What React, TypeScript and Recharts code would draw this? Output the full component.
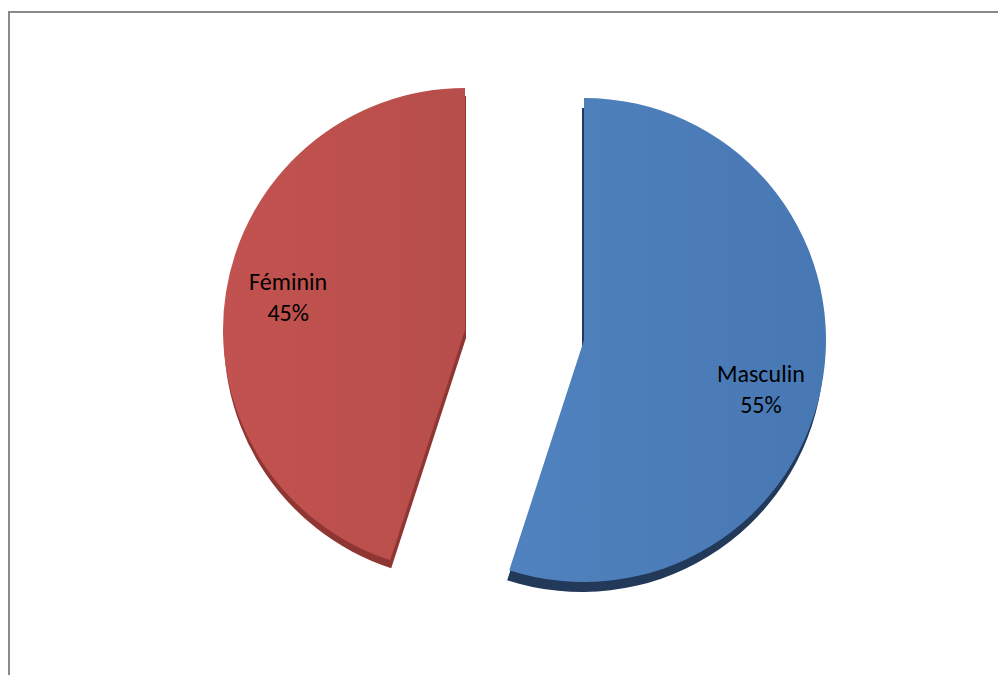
import { PieChart, Pie, Cell } from "recharts";

const categories = ["Masculin", "Féminin"];
const values = [55, 45];
const percentLabels = ["55%", "45%"];

const colors = ["url(#gradBlue)", "url(#gradRed)"];
const depthColors = ["#22395A", "#8F3633"];

const data = categories.map((name, i) => ({ name, value: values[i] }));

const RADIAN = Math.PI / 180;

// exploded slices: each slice gets its own pie centre
const slicePos = [
  { cx: 569, cy: 322, depthDx: -2, depthDy: 10, nudgeY: 20 },
  { cx: 450, cy: 312, depthDx: 1, depthDy: 8, nudgeY: -6 },
];

function makeLabel(idx: number) {
  return function SliceLabel(props: any) {
    const { cx, cy, midAngle, outerRadius, index } = props;
    if (index !== idx) return null;
    const r = outerRadius * 0.74;
    const x = cx + r * Math.cos(-midAngle * RADIAN);
    const y = cy + r * Math.sin(-midAngle * RADIAN) + slicePos[idx].nudgeY;
    return (
      <text x={x} y={y} textAnchor="middle" fill="#000" style={{ fontSize: 24, fontFamily: "Carlito, Calibri, Lato, sans-serif" }}>
        <tspan x={x} dy={-6}>{categories[idx]}</tspan>
        <tspan x={x} dy={31}>{percentLabels[idx]}</tspan>
      </text>
    );
  };
}

export default function App() {
  return (
    <div style={{ paddingTop: 3 }}>
      <div style={{ width: 1000, height: 664, borderLeft: "2px solid #8a8a8a", borderTop: "2px solid #8a8a8a" }}>
        <PieChart width={998} height={662}>
          <defs>
            <linearGradient id="gradBlue" x1="0" y1="0" x2="1" y2="0">
              <stop offset="0%" stopColor="#4F82BE" />
              <stop offset="100%" stopColor="#4878B4" />
            </linearGradient>
            <linearGradient id="gradRed" x1="0" y1="0" x2="1" y2="0">
              <stop offset="0%" stopColor="#C2524F" />
              <stop offset="100%" stopColor="#B74E4B" />
            </linearGradient>
          </defs>
          {slicePos.map((p, idx) => (
            <Pie
              key={"depth" + idx}
              data={data}
              dataKey="value"
              cx={p.cx + p.depthDx}
              cy={p.cy + p.depthDy}
              outerRadius={242}
              startAngle={90}
              endAngle={-270}
              stroke="none"
              isAnimationActive={false}
            >
              {data.map((_, i) => (
                <Cell key={i} fill={i === idx ? depthColors[idx] : "none"} />
              ))}
            </Pie>
          ))}
          {slicePos.map((p, idx) => (
            <Pie
              key={"slice" + idx}
              data={data}
              dataKey="value"
              cx={p.cx}
              cy={p.cy}
              outerRadius={242}
              startAngle={90}
              endAngle={-270}
              stroke="none"
              labelLine={false}
              label={makeLabel(idx)}
              isAnimationActive={false}
            >
              {data.map((_, i) => (
                <Cell key={i} fill={i === idx ? colors[idx] : "none"} />
              ))}
            </Pie>
          ))}
        </PieChart>
      </div>
    </div>
  );
}
